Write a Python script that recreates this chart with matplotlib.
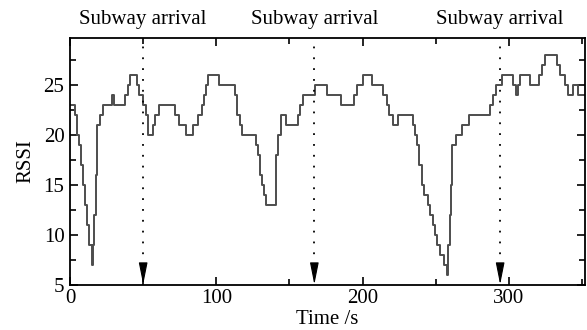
import matplotlib
matplotlib.use("Agg")
import matplotlib.pyplot as plt
from matplotlib.ticker import MultipleLocator
import matplotlib.transforms as mtransforms

plt.rcParams['font.family'] = ['Liberation Serif', 'DejaVu Serif']
plt.rcParams['font.size'] = 15

# step start times (s) and RSSI values
times = [0, 3.4, 5.0, 6.0, 7.6, 9.1, 10.3, 11.9, 13.2, 14.8, 15.5, 16.6, 17.8, 18.7,
         20.5, 22.3, 28.5, 30.1, 37.6, 39.9, 41.0, 45.6, 47.4, 49.7, 52.0, 53.6,
         56.5, 58.1, 60.8, 71.8, 74.7, 79.3, 84.3, 87.3, 90.0, 91.6, 93.0, 94.6,
         101.9, 112.8, 114.4, 116.2, 117.4, 127.1, 128.5, 129.9, 131.0, 132.6,
         134.0, 140.8, 142.4, 144.0, 147.6, 156.1, 157.2, 159.0, 167.5, 175.4,
         185.0, 194.1, 196.4, 200.5, 206.2, 214.2, 216.9, 218.3, 221.1, 224.4,
         234.2, 235.8, 237.4, 238.8, 240.4, 242.0, 244.9, 246.1, 247.9, 249.5,
         251.1, 252.9, 255.6, 257.5, 258.6, 259.8, 260.5, 261.4, 263.9, 267.7,
         273.0, 287.1, 289.4, 291.2, 295.1, 303.0, 304.8, 306.0, 307.6, 314.4,
         320.8, 322.4, 324.7, 332.6, 334.9, 338.3, 340.6, 343.6, 347.5, 352]
rssi = [23, 22, 20, 19, 17, 15, 13, 11, 9, 7, 9, 12, 16, 21,
        22, 23, 24, 23, 24, 25, 26, 25, 24, 23, 22, 20,
        21, 22, 23, 22, 21, 20, 21, 22, 23, 24, 25, 26,
        25, 24, 22, 21, 20, 19, 18, 16, 15, 14,
        13, 18, 20, 22, 21, 22, 23, 24, 25, 24,
        23, 24, 25, 26, 25, 24, 23, 22, 21, 22,
        21, 20, 19, 17, 15, 14, 13, 12, 11, 10,
        9, 8, 7, 6, 9, 12, 15, 19, 20, 21,
        22, 23, 24, 25, 26, 25, 24, 25, 26, 25,
        26, 27, 28, 27, 26, 25, 24, 25, 24, 24]

arrivals = [50, 167, 294]
arrival_label = "Subway arrival"

fig = plt.figure(figsize=(5.87, 3.30), dpi=100)
ax = fig.add_axes([0.1193, 0.1364, 0.8773, 0.7494])

ax.plot(times, rssi, drawstyle='steps-post', color='#4d4d4d', lw=1.4)

trans = mtransforms.blended_transform_factory(ax.transData, ax.transAxes)
for xa in arrivals:
    ax.plot([xa, xa], [7.0, 29.7], color='k', lw=1.3, ls=(0, (1, 5)))
    ax.annotate('', xy=(xa, 5.05), xytext=(xa, 7.0),
                arrowprops=dict(arrowstyle='-|>,head_length=0.9,head_width=0.18',
                                color='k', lw=0.8, shrinkA=0, shrinkB=0))
    ax.text(xa, 1.075, arrival_label, transform=trans, ha='center', va='center')

ax.set_xlim(0, 352)
ax.set_ylim(5, 29.7)
ax.set_xticks([0, 100, 200, 300])
ax.set_yticks([5, 10, 15, 20, 25])
ax.xaxis.set_minor_locator(MultipleLocator(50))
ax.yaxis.set_minor_locator(MultipleLocator(2.5))
ax.tick_params(which='both', direction='in', top=True, right=True, width=1.2)
ax.tick_params(axis='x', pad=3)
ax.tick_params(axis='y', pad=4)
ax.tick_params(which='major', length=6)
ax.tick_params(which='minor', length=4)
for s in ax.spines.values():
    s.set_linewidth(1.3)

ax.set_xlabel('Time /s', labelpad=1)
ax.set_ylabel('RSSI', labelpad=6)

fig.savefig('out.png', dpi=100)
